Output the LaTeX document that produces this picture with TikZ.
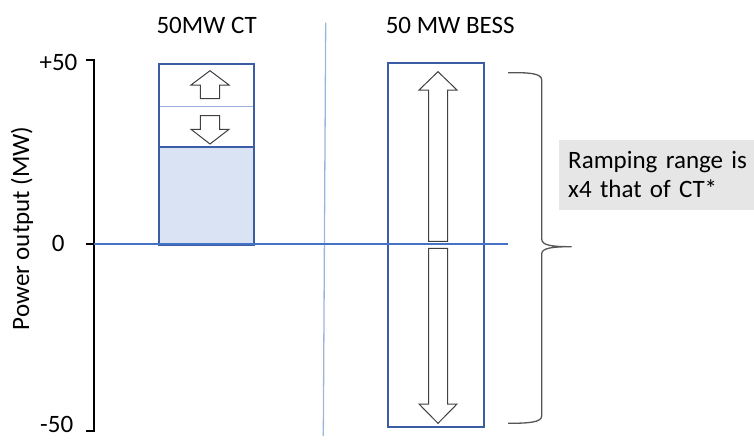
\documentclass[tikz,border=0pt]{standalone}
\usepackage{fontspec}
\setmainfont{Carlito}
\definecolor{boxblue}{HTML}{3A5DA6}
\definecolor{zeroblue}{HTML}{4472C4}
\definecolor{sepblue}{HTML}{9DB5DE}
\definecolor{ctfill}{HTML}{DAE3F3}
\definecolor{arrowgray}{HTML}{404040}
\definecolor{bracegray}{HTML}{555555}
\definecolor{notegray}{HTML}{E7E6E6}
\tikzset{
  lbl/.style={inner sep=0pt, font=\fontsize{25}{30}\selectfont},
  unitbox/.style={draw=boxblue, line width=2pt, inner sep=0pt},
  blockarrow/.style={draw=arrowgray, fill=white, line width=1pt, line join=miter},
  axisline/.style={draw=black, line width=2pt},
}
\begin{document}
\begin{tikzpicture}[x=1pt, y=-1pt]
\useasboundingbox (0,0) rectangle (754,439);
% titles
\node[lbl, anchor=base west] (ttlct) at (156.3,33.3) {50MW CT};
\node[lbl, anchor=base west] (ttlbess) at (385.6,33.3) {50 MW BESS};
% separator
\coordinate (septop) at (325.7,22.7);
\coordinate (sepbot) at (323.3,436);
\draw[sepblue, line width=1.3pt] (septop) -- (sepbot);
% axis
\coordinate (axtop) at (94,60);
\coordinate (axzero) at (94,244);
\coordinate (axbot) at (94,431);
\coordinate (tktop) at (86,60);
\coordinate (tkzero) at (86,244);
\coordinate (tkbot) at (86,431);
\draw[axisline] (tktop) -- (axtop) -- (axbot) -- (tkbot);
\draw[axisline] (tkzero) -- (axzero);
\node[lbl, anchor=base] (lp50) at (58.5,70.7) {+50};
\node[lbl, anchor=base] (l0) at (58.3,251.7) {0};
\node[lbl, anchor=base] (lm50) at (56.7,432) {-50};
\node[lbl, rotate=90, anchor=center] (ylab) at (22,228.3) {Power output (MW)};
% CT box
\fill[ctfill] (157.7,147.3) rectangle (253.3,244);
\draw[sepblue, line width=1pt] (157.7,106) -- (253.3,106);
\draw[boxblue, line width=2pt] (157.7,147.3) -- (253.3,147.3);
\node[unitbox, anchor=north west, minimum width=95.6pt, minimum height=181.3pt] (ct) at (157.7,62.7) {};
% BESS box
\node[unitbox, anchor=north west, minimum width=96.6pt, minimum height=363.7pt] (bess) at (386.7,62.3) {};
% zero line
\coordinate (zl) at (94,244);
\coordinate (zr) at (508.3,244);
\draw[zeroblue, line width=2pt] (zl) -- (zr);
% CT arrows
\draw[blockarrow] (210,70.7) -- (229,85) -- (219.7,85) -- (219.7,98.7) -- (200.3,98.7) -- (200.3,85) -- (191,85) -- cycle;
\draw[blockarrow] (210,144) -- (229,129.3) -- (219.7,129.3) -- (219.7,115.7) -- (200.3,115.7) -- (200.3,129.3) -- (191,129.3) -- cycle;
% BESS arrows
\draw[blockarrow] (438,71.7) -- (457,90) -- (447.5,90) -- (447.5,241.3) -- (428.5,241.3) -- (428.5,90) -- (419,90) -- cycle;
\draw[blockarrow] (438,423.3) -- (457,404) -- (447.5,404) -- (447.5,248.3) -- (428.5,248.3) -- (428.5,404) -- (419,404) -- cycle;
% brace
\coordinate (brtop) at (508,72.7);
\coordinate (brtip) at (571.7,246.7);
\coordinate (brbot) at (508,423.3);
\draw[bracegray, line width=1.3pt]
  (brtop) .. controls (528,72.5) and (541.7,73) .. (541.7,80)
  -- (541.7,239) .. controls (541.7,245.5) and (552,246.7) .. (brtip)
  .. controls (552,246.7) and (541.7,248) .. (541.7,254)
  -- (541.7,416) .. controls (541.7,422.5) and (528,423.3) .. (brbot);
% note
\node[fill=notegray, anchor=north west, minimum height=70.7pt,
  inner xsep=9.7pt, inner ysep=0pt, text width=190pt, align=left, font=\fontsize{25}{29}\selectfont]
  (note) at (558.3,139.3) {Ramping range is\\x4 that of CT*};
\end{tikzpicture}
\end{document}
